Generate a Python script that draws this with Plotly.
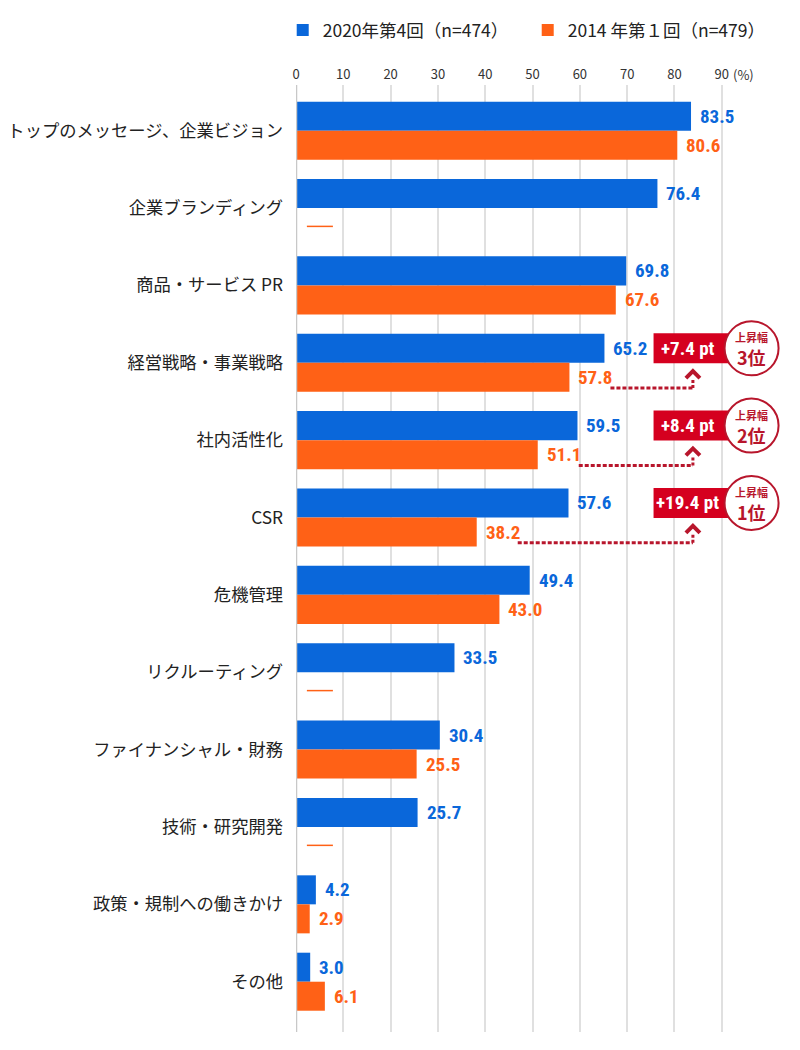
import plotly.graph_objects as go

categories = ["トップのメッセージ、企業ビジョン", "企業ブランディング", "商品・サービス PR",
              "経営戦略・事業戦略", "社内活性化", "CSR", "危機管理", "リクルーティング",
              "ファイナンシャル・財務", "技術・研究開発", "政策・規制への働きかけ", "その他"]
values_2020 = [83.5, 76.4, 69.8, 65.2, 59.5, 57.6, 49.4, 33.5, 30.4, 25.7, 4.2, 3.0]
values_2014 = [80.6, None, 67.6, 57.8, 51.1, 38.2, 43.0, None, 25.5, None, 2.9, 6.1]
name_2020 = "2020年第4回（n=474）"
name_2014 = "2014 年第１回（n=479）"
tick_vals = [0, 10, 20, 30, 40, 50, 60, 70, 80, 90]

BLUE = "#0A67DA"
ORANGE = "#FF6116"
RED = "#D5001F"
DRED = "#B8162C"
JP = "Noto Sans CJK JP, Noto Sans, sans-serif"
NUM = "Roboto Condensed, Roboto, sans-serif"

W, H = 800, 1050
ML, MR, MT, MB = 296, 12, 85, 18
XMAX = 104
pxu = (W - ML - MR) / XMAX
YR = [11.65, -0.59]
BW = 0.375  # bar width in category units

fig = go.Figure()
fig.add_trace(go.Bar(y=categories, x=values_2020, name=name_2020, orientation="h",
                     marker=dict(color=BLUE, line=dict(width=0)), hoverinfo="skip"))
fig.add_trace(go.Bar(y=categories, x=values_2014, name=name_2014, orientation="h",
                     marker=dict(color=ORANGE, line=dict(width=0)), hoverinfo="skip"))

annotations = []
shapes = []
for i, (a, b) in enumerate(zip(values_2020, values_2014)):
    annotations.append(dict(x=a, y=i - BW / 2, xref="x", yref="y", text=f"{a:.1f}",
                            showarrow=False, xanchor="left", xshift=7,
                            font=dict(family=NUM, size=19, color=BLUE, weight="bold")))
    if b is None:
        shapes.append(dict(type="line", xref="x", yref="y", x0=2.3, x1=7.8,
                           y0=i + BW / 2 + 0.05, y1=i + BW / 2 + 0.05,
                           line=dict(color=ORANGE, width=1.5)))
    else:
        annotations.append(dict(x=b, y=i + BW / 2, xref="x", yref="y", text=f"{b:.1f}",
                                showarrow=False, xanchor="left", xshift=7,
                                font=dict(family=NUM, size=19, color=ORANGE, weight="bold")))

# top-3 increases
deltas = [(a - b, i) for i, (a, b) in enumerate(zip(values_2020, values_2014)) if b is not None]
deltas.sort(reverse=True)
ARROW_X = 83.9
BOX_X = 83.4
CIRC_X = 96.3
for rank, (d, i) in enumerate(deltas[:3], start=1):
    b = values_2014[i]
    yb = i - BW / 2
    yline = i + BW / 2 + 0.14
    shapes.append(dict(type="line", xref="x", yref="y", x0=b + 41 / pxu, x1=ARROW_X,
                       y0=yline, y1=yline, line=dict(color=DRED, width=3, dash="4px,2px")))
    shapes.append(dict(type="line", xref="x", yref="y", xsizemode="pixel", ysizemode="pixel",
                       xanchor=ARROW_X, yanchor=yline, x0=0, x1=0, y0=0, y1=9,
                       line=dict(color=DRED, width=3, dash="3px,2px")))
    shapes.append(dict(type="path", xref="x", yref="y", xsizemode="pixel", ysizemode="pixel",
                       xanchor=ARROW_X, yanchor=yline,
                       path="M -7,10 L 0,17 L 7,10",
                       line=dict(color=DRED, width=4)))
    shapes.append(dict(type="rect", xref="x", yref="y", xsizemode="pixel", ysizemode="pixel",
                       xanchor=BOX_X, yanchor=yb, x0=-37, x1=38, y0=-15, y1=15,
                       fillcolor=RED, line=dict(width=0)))
    shapes.append(dict(type="circle", xref="x", yref="y", xsizemode="pixel", ysizemode="pixel",
                       xanchor=CIRC_X, yanchor=yb, x0=-27, x1=27, y0=-27, y1=27,
                       fillcolor="white", line=dict(color=DRED, width=2)))
    annotations.append(dict(x=BOX_X - 3 / pxu, y=yb, xref="x", yref="y", text=f"+{d:.1f} pt",
                            showarrow=False, xanchor="center",
                            font=dict(family=NUM, size=19, color="white", weight="bold")))
    annotations.append(dict(x=CIRC_X, y=yb, xref="x", yref="y", text="上昇幅",
                            showarrow=False, yshift=11,
                            font=dict(family=JP, size=11, color=DRED, weight="bold")))
    annotations.append(dict(x=CIRC_X, y=yb, xref="x", yref="y", text=f"{rank}位",
                            showarrow=False, yshift=-9,
                            font=dict(family=JP, size=18, color=DRED, weight="bold")))

annotations.append(dict(x=90, y=1, xref="x", yref="paper", text="(%)", showarrow=False,
                        xanchor="left", xshift=9, yanchor="bottom", yshift=-1,
                        font=dict(family=JP, size=13, color="#333")))

fig.update_layout(
    width=W, height=H, margin=dict(l=ML, r=MR, t=MT, b=MB, autoexpand=False),
    paper_bgcolor="white", plot_bgcolor="white",
    barmode="group", bargap=0.25, bargroupgap=0,
    font=dict(family=JP, color="#222"),
    legend=dict(orientation="h", x=-0.027, xanchor="left", y=1 + (MT - 30) / (H - MT - MB),
                yanchor="middle", font=dict(family=JP, size=17.5, color="#222"),
                traceorder="normal", entrywidth=200, itemwidth=30),
    xaxis=dict(side="top", range=[0, XMAX], tickvals=tick_vals, showgrid=True,
               gridcolor="#e0e0e0", gridwidth=1.5, zeroline=False, showline=False,
               tickfont=dict(family=JP, size=13, color="#333"), ticks="",
               ticklabelstandoff=2, automargin=False, fixedrange=True),
    yaxis=dict(range=YR, showgrid=False, zeroline=False, showline=False,
               tickfont=dict(family=JP, size=17.3, color="#222"), ticks="",
               ticklabelstandoff=12, automargin=False, fixedrange=True),
    shapes=[dict(type="line", xref="x", yref="paper", x0=0, x1=0, y0=0, y1=1,
                 line=dict(color="#c8c8c8", width=2.5), layer="above")] + shapes,
    annotations=annotations,
)
fig.write_html("out.html", config={"displayModeBar": False},
               post_script="document.body.style.margin='0';")
